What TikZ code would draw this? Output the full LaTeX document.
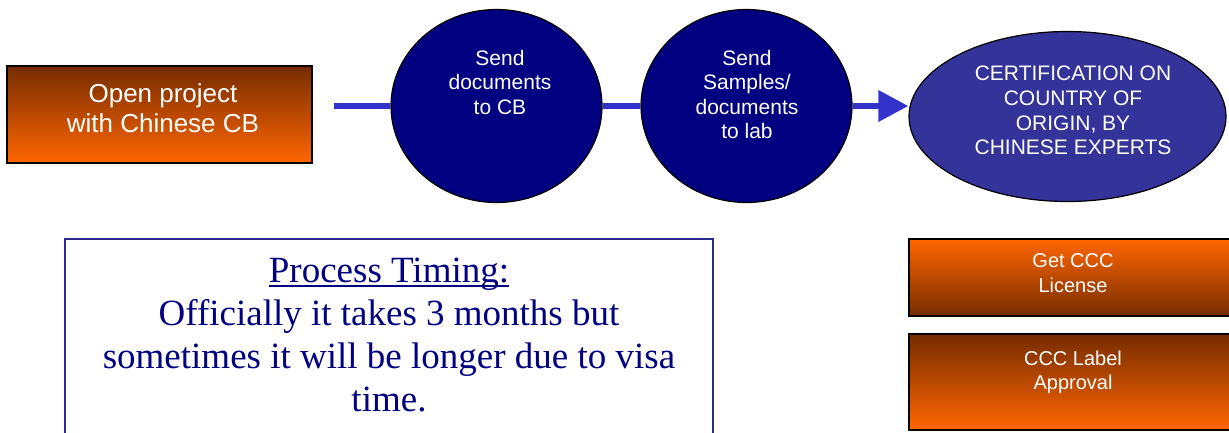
\documentclass[tikz,border=0pt]{standalone}
\usepackage{fontspec}
\setmainfont{Liberation Sans}
\newfontfamily\timingfont{Liberation Serif}
\usetikzlibrary{shapes.geometric,arrows.meta}

\definecolor{brdark}{RGB}{118,44,0}
\definecolor{brmid}{RGB}{214,86,0}
\definecolor{orng}{RGB}{255,102,0}
\definecolor{navyfill}{RGB}{0,0,128}
\definecolor{ovalfill}{RGB}{51,51,153}
\definecolor{flowline}{RGB}{51,51,204}
\definecolor{boxedge}{RGB}{43,43,143}
\definecolor{timingtext}{RGB}{0,0,128}

% underline drawn through the descenders, as in slide titles
\newcommand\titleunder[1]{\setbox0\hbox{#1}\rlap{\rule[-4.5pt]{\wd0}{1.8pt}}\box0}

\tikzset{
  darkup/.style={draw=black, line width=1.5pt, top color=brdark, middle color=brmid, bottom color=orng},
  darkdown/.style={draw=black, line width=1.5pt, top color=orng, middle color=brmid, bottom color=brdark},
  bubble/.style={ellipse, draw=black, line width=1.2pt, fill=navyfill, inner sep=0pt,
                 minimum width=211pt, minimum height=193pt},
  oval/.style={ellipse, draw=black, line width=1.2pt, fill=ovalfill, inner sep=0pt,
               minimum width=317pt, minimum height=170pt},
  whitetext/.style={text=white, align=center, inner sep=0pt, anchor=north},
  flow/.style={draw=flowline, line width=6.5pt}
}

\begin{document}
\begin{tikzpicture}[x=1pt,y=-1pt]
\useasboundingbox (0,0) rectangle (1229,432);

% start box
\node[darkup, rectangle, inner sep=0pt, minimum width=305pt, minimum height=97pt] (open) at (159.5,114.5) {};
\node[whitetext, font=\fontsize{26}{30}\selectfont] (opentext) at (163,83.8) {Open project\\with Chinese CB};

% process bubbles
\node[bubble] (cb) at (496.5,106) {};
\node[whitetext, font=\fontsize{21}{24.5}\selectfont] (cbtext) at (500,49.7) {Send\\documents\\to CB};

\node[bubble] (lab) at (746.5,106) {};
\node[whitetext, font=\fontsize{21}{24.5}\selectfont] (labtext) at (747,49.7) {Send\\Samples/\\documents\\to lab};

\node[oval] (cert) at (1067.5,116.5) {};
\node[whitetext, font=\fontsize{21}{24.7}\selectfont] (certtext) at (1073,66) {CERTIFICATION ON\\COUNTRY OF\\ORIGIN, BY\\CHINESE EXPERTS};

% connectors
\coordinate (linestart) at (334,106);
\draw[flow] (linestart) -- (cb.west);
\draw[flow] (cb.east) -- (lab.west);
\draw[flow, -{Triangle[length=30pt,width=30pt]}] (lab.east) -- (cert.west |- lab.east);

% timing note
\draw[draw=boxedge, line width=1.5pt, fill=white] (65,239) rectangle (713,445);
\node[text=timingtext, align=center, inner sep=0pt, anchor=north,
      font=\timingfont\fontsize{37}{43}\selectfont] (timing) at (389,257.7)
  {\titleunder{Process Timing:}\\Officially it takes 3 months but\\sometimes it will be longer due to visa\\time.};

% licence steps
\node[darkdown, rectangle, inner sep=0pt, minimum width=326pt, minimum height=77pt] (license) at (1072,277.5) {};
\node[whitetext, font=\fontsize{20}{25}\selectfont] (licensetext) at (1073,253.2) {Get CCC\\License};

\node[darkup, rectangle, inner sep=0pt, minimum width=326pt, minimum height=96pt] (label) at (1072,382) {};
\node[whitetext, font=\fontsize{20}{24}\selectfont] (labeltext) at (1073,350.4) {CCC Label\\Approval};
\end{tikzpicture}
\end{document}
